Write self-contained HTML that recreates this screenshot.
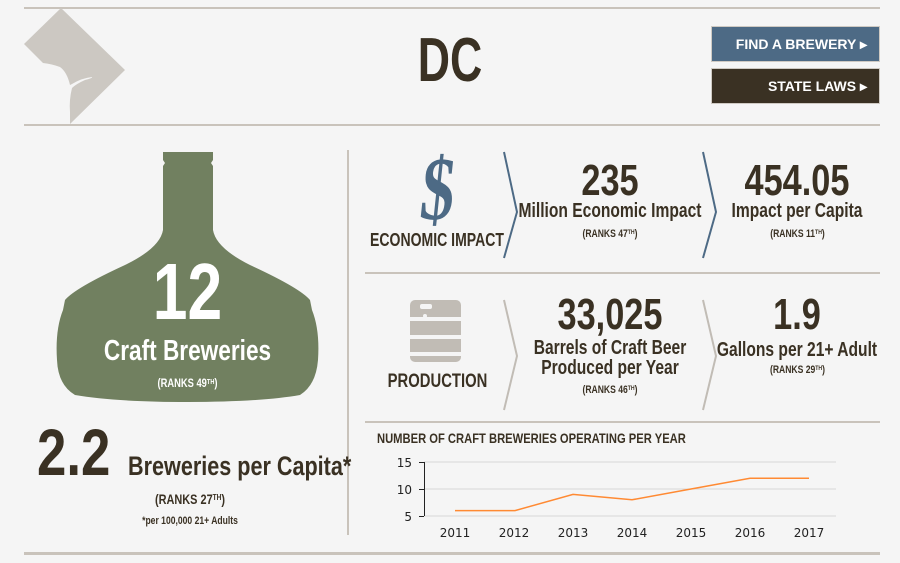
<!DOCTYPE html>
<html><head><meta charset="utf-8"><style>
*{margin:0;padding:0;box-sizing:border-box}
body{width:900px;height:563px;background:#f5f5f5;position:relative;overflow:hidden;font-family:"Liberation Sans",sans-serif;font-weight:bold;color:#3a3123}
.a{position:absolute;white-space:nowrap;transform:scaleX(0.8);transform-origin:left center}
.hl{position:absolute;height:2px;background:#c9c3bb}
.c{position:absolute;text-align:center;white-space:nowrap;transform:scaleX(0.78)}
.btn{position:absolute;left:711px;width:169px;color:#fff;font-family:"Liberation Sans",sans-serif;font-size:14px;text-align:right;padding-right:12px;border:1px solid #cfcac3}
sup{font-size:0.6em;vertical-align:0.45em}
</style></head><body>
<div class="hl" style="left:24px;top:7px;width:856px"></div>
<div class="hl" style="left:24px;top:124px;width:856px"></div>
<div class="hl" style="left:24px;top:552px;width:856px;height:3px"></div>
<div class="hl" style="left:365px;top:272px;width:515px"></div>
<div class="hl" style="left:365px;top:421px;width:515px"></div>
<div style="position:absolute;left:347px;top:150px;width:2px;height:385px;background:#c9c3bb"></div>
<svg style="position:absolute;left:0;top:0" width="900" height="563">
<path d="M61 8 L125 70 L70 124 L70 112 Q69 100 72 88 Q76 84 85 80 Q93 78 92 77 Q82 78 72 84 L70 85 Q67 72 60 67 Q52 64 43 63 L24 44 Z" fill="#ccc8c2"/>
<path d="M163 152 L213 152 L213 160 L211 163 L213 166 L213 230 Q216 248 250 265 Q300 288 310 300 L312 310 Q320 330 318 360 Q316 385 300 395 Q260 402 188 402 Q115 402 75 395 Q58 385 57 360 Q55 330 63 310 L65 300 Q75 288 125 265 Q160 248 163 230 L163 166 L165 163 L163 160 Z" fill="#718060"/>
<polyline points="504,152 517,212 504,258" fill="none" stroke="#4d6a85" stroke-width="2"/>
<polyline points="703,152 716,212 703,258" fill="none" stroke="#4d6a85" stroke-width="2"/>
<polyline points="504,300 517,356 504,410" fill="none" stroke="#c1bcb5" stroke-width="2"/>
<polyline points="703,300 716,356 703,410" fill="none" stroke="#c1bcb5" stroke-width="2"/>
<rect x="410" y="300" width="51" height="62" rx="5" fill="#c1bcb5"/>
<rect x="410" y="317" width="51" height="4" fill="#f5f5f5"/>
<rect x="410" y="335" width="51" height="4" fill="#f5f5f5"/>
<rect x="410" y="352" width="51" height="4" fill="#f5f5f5"/>
<rect x="420" y="304" width="12" height="5" rx="2" fill="#f5f5f5"/>
<circle cx="425" cy="316" r="2" fill="#f5f5f5"/>
<g stroke="#d6d6d6" stroke-width="1">
<line x1="424" y1="462" x2="836" y2="462"/><line x1="424" y1="489" x2="836" y2="489"/><line x1="424" y1="516" x2="836" y2="516"/></g>
<line x1="424.5" y1="462" x2="424.5" y2="516" stroke="#222" stroke-width="1"/>
<g stroke="#222"><line x1="419" y1="462.5" x2="424" y2="462.5"/><line x1="419" y1="489.5" x2="424" y2="489.5"/><line x1="419" y1="516.5" x2="424" y2="516.5"/></g>
<polyline points="455,510.6 515,510.6 573,494.4 632,499.8 691,489 750,478.2 809,478.2" fill="none" stroke="#ff8a33" stroke-width="1.5"/>
<g font-family="DejaVu Sans,sans-serif" font-weight="normal" font-size="12" fill="#222">
<text x="412" y="467" text-anchor="end">15</text><text x="412" y="494" text-anchor="end">10</text><text x="412" y="521" text-anchor="end">5</text>
<text x="455" y="537" text-anchor="middle">2011</text><text x="514" y="537" text-anchor="middle">2012</text><text x="573" y="537" text-anchor="middle">2013</text><text x="632" y="537" text-anchor="middle">2014</text><text x="691" y="537" text-anchor="middle">2015</text><text x="750" y="537" text-anchor="middle">2016</text><text x="809" y="537" text-anchor="middle">2017</text>
</g>
</svg>
<div class="c" style="left:390px;width:120px;top:28px;font-size:62px;line-height:66px;transform:scaleX(0.72)">DC</div>
<div class="btn" style="top:26px;height:36px;line-height:34px;background:#4d6a85">FIND A BREWERY ▸</div>
<div class="btn" style="top:68px;height:36px;line-height:34px;background:#3a3123">STATE LAWS ▸</div>
<div class="c" style="left:388px;width:100px;top:140px;font-size:90px;line-height:100px;color:#4d6a85;font-family:'Liberation Serif',serif;transform:scaleX(0.75) skewX(-8deg)">$</div>
<div class="c" style="left:337px;width:200px;top:230px;font-size:18px">ECONOMIC IMPACT</div>
<div class="c" style="left:60px;width:255px;top:252px;font-size:80px;line-height:80px;color:#fff">12</div>
<div class="c" style="left:40px;width:295px;top:335px;font-size:29px;color:#fff">Craft Breweries</div>
<div class="c" style="left:60px;width:255px;top:376px;font-size:12px;color:#fff">(RANKS 49<sup>TH</sup>)</div>
<div class="a" style="left:37px;top:420px;font-size:66px;line-height:64px">2.2</div>
<div class="a" style="left:128px;top:451px;font-size:27px">Breweries per Capita*</div>
<div class="c" style="left:130px;width:120px;top:491px;font-size:14px">(RANKS 27<sup>TH</sup>)</div>
<div class="c" style="left:110px;width:160px;top:515px;font-size:11px">*per 100,000 21+ Adults</div>
<div class="c" style="left:500px;width:220px;top:156px;font-size:44px;line-height:50px">235</div>
<div class="c" style="left:490px;width:240px;top:200px;font-size:20px">Million Economic Impact</div>
<div class="c" style="left:520px;width:180px;top:228px;font-size:11px">(RANKS 47<sup>TH</sup>)</div>
<div class="c" style="left:697px;width:200px;top:156px;font-size:44px;line-height:50px">454.05</div>
<div class="c" style="left:697px;width:200px;top:200px;font-size:20px">Impact per Capita</div>
<div class="c" style="left:715px;width:165px;top:228px;font-size:11px">(RANKS 11<sup>TH</sup>)</div>
<div class="c" style="left:365px;width:145px;top:371px;font-size:19px">PRODUCTION</div>
<div class="c" style="left:500px;width:220px;top:290px;font-size:44px;line-height:50px">33,025</div>
<div class="c" style="left:500px;width:220px;top:338px;font-size:20px;line-height:20px">Barrels of Craft Beer<br>Produced per Year</div>
<div class="c" style="left:520px;width:180px;top:384px;font-size:11px">(RANKS 46<sup>TH</sup>)</div>
<div class="c" style="left:697px;width:200px;top:290px;font-size:44px;line-height:50px">1.9</div>
<div class="c" style="left:677px;width:240px;top:339px;font-size:20px">Gallons per 21+ Adult</div>
<div class="c" style="left:715px;width:165px;top:364px;font-size:11px">(RANKS 29<sup>TH</sup>)</div>
<div class="a" style="left:377px;top:430px;font-size:14px">NUMBER OF CRAFT BREWERIES OPERATING PER YEAR</div>
</body></html>
